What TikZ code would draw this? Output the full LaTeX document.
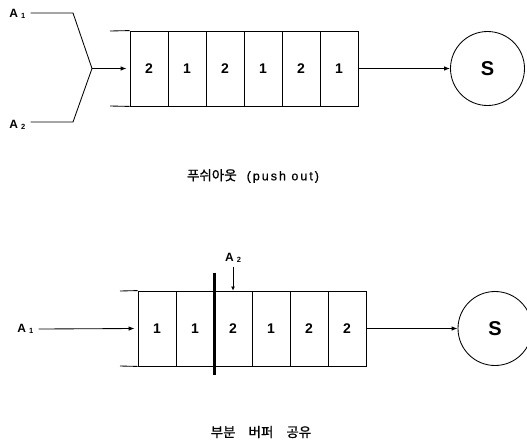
\documentclass[tikz,border=0pt]{standalone}
\usepackage{fontspec}
\setmainfont{Liberation Sans}
\newfontfamily\krfont[FakeBold=1]{Noto Sans CJK KR}
\newfontfamily\capsans[FakeBold=0.8,LetterSpace=16]{Liberation Sans}
\usetikzlibrary{arrows.meta}
\begin{document}
\begin{tikzpicture}[x=1pt,y=-1pt,line width=0.85pt,
  cell/.style={draw,rectangle,minimum width=38pt,minimum height=75pt,inner sep=0pt,
    font=\bfseries\fontsize{14}{14}\selectfont},
  server/.style={draw,circle,minimum size=74pt,inner sep=0pt,
    font=\bfseries\fontsize{20}{20}\selectfont},
  lbl/.style={inner sep=0pt,font=\bfseries\fontsize{12}{12}\selectfont},
  captext/.style={inner sep=0pt,font=\krfont\fontsize{13.5}{13.5}\selectfont},
  arr/.style={-{Latex[length=6pt,width=4.5pt]}},
]
\useasboundingbox (0,0) rectangle (527,445);
\newcommand\Asub[1]{A\hspace{3pt}\raisebox{-1pt}{\fontsize{7.5}{7.5}\selectfont #1}}

% ---- push-out buffer ----
\node[cell] (t1) at (149,68.5) {2};
\node[cell] (t2) at (187,68.5) {1};
\node[cell] (t3) at (225,68.5) {2};
\node[cell] (t4) at (263,68.5) {1};
\node[cell] (t5) at (301,68.5) {2};
\node[cell] (t6) at (339,68.5) {1};
\coordinate (tqa) at (110,31);
\coordinate (tqb) at (110,106);
\draw (tqa) -- (t1.north west);
\draw (tqb) -- (t1.south west);

\node[server] (s1) at (487.5,68.5) {S};
\draw[arr] (t6.east) -- (s1.west);

\node[lbl,anchor=west] (ta1) at (9,14) {\Asub{1}};
\node[lbl,anchor=west] (ta2) at (9,125) {\Asub{2}};
\coordinate (k1) at (73,13);
\coordinate (k2) at (73,122);
\coordinate (j) at (92,68.5);
\draw ([xshift=5pt]ta1.east |- k1) -- (k1) -- (j) -- (k2) -- ([xshift=5pt]ta2.east |- k2);
\draw[arr] (j) -- ([xshift=-3pt]t1.west);

\node[captext] (c1) at (253,176) {푸쉬아웃\hspace{10pt}{\capsans\fontsize{12.5}{12.5}\selectfont(push out)}};

% ---- partial buffer sharing ----
\node[cell] (b1) at (157,328.5) {1};
\node[cell] (b2) at (195,328.5) {1};
\node[cell] (b3) at (233,328.5) {2};
\node[cell] (b4) at (271,328.5) {1};
\node[cell] (b5) at (309,328.5) {2};
\node[cell] (b6) at (347,328.5) {2};
\coordinate (bqa) at (120,291);
\coordinate (bqb) at (120,366);
\draw (bqa) -- (b1.north west);
\draw (bqb) -- (b1.south west);
\draw[line width=3pt] ([yshift=18pt]b2.north east) -- ([yshift=-9pt]b2.south east);

\node[server] (s2) at (495,328.5) {S};
\draw[arr] (b6.east) -- (s2.west);

\node[lbl,anchor=west] (ba1) at (17,329) {\Asub{1}};
\draw[arr] ([xshift=5pt]ba1.east) -- ([xshift=-3pt]b1.west);

\node[lbl,anchor=south] (ba2) at (233,263) {\Asub{2}};
\draw[-{Latex[length=4pt,width=4pt]}] ([yshift=-4pt]ba2.south) -- (b3.north);

\node[captext] (c2) at (261,432) {부분\hspace{13pt}버퍼\hspace{13pt}공유};
\end{tikzpicture}
\end{document}
